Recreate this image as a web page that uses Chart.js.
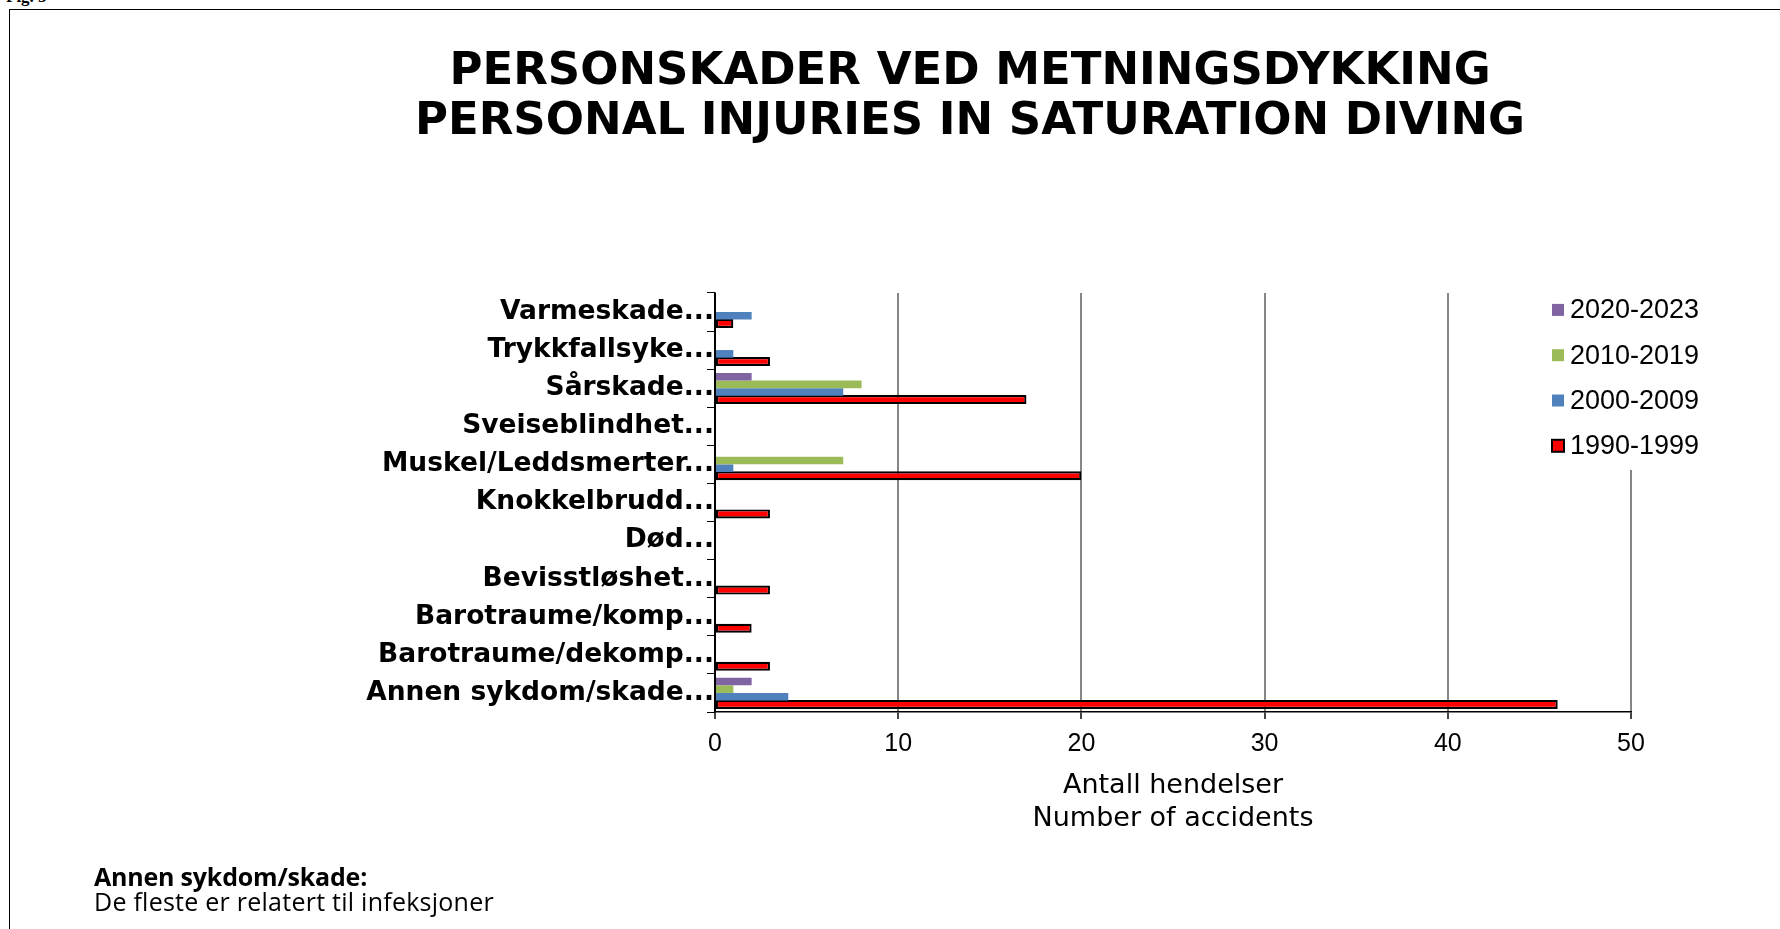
<!DOCTYPE html>
<html>
<head>
<meta charset="utf-8">
<script src="https://cdn.jsdelivr.net/npm/chart.js@4/dist/chart.umd.min.js"></script>
<style>
  html, body { margin: 0; padding: 0; background: #fff; }
  body { width: 1780px; height: 929px; position: relative; overflow: hidden; }
  #fig { position: absolute; left: 6px; top: -13px; font: bold 17px "Liberation Serif", serif; color: #000; }
  #frame { position: absolute; left: 9px; top: 9px; width: 1800px; height: 960px; border: 1.5px solid #000; }
  #wrap { position: absolute; left: 160px; top: 0; width: 1620px; height: 929px; }
  #note { position: absolute; left: 94px; top: 864px; font: 25px "Open Sans", sans-serif; line-height: 25px; color: #000; }
  #note b { font-weight: bold; letter-spacing: -0.2px; }
  #note span { letter-spacing: 0.25px; }
</style>
</head>
<body>
<div id="fig">Fig. 5</div>
<div id="frame"></div>
<div id="wrap"><canvas id="chart" width="1620" height="929"></canvas></div>
<div id="note"><b>Annen sykdom/skade:</b><br><span>De fleste er relatert til infeksjoner</span></div>
<script>
// kategorier (ovenfra og ned)
const categories = [
    'Varmeskade...', 'Trykkfallsyke...', 'Sårskade...', 'Sveiseblindhet...',
    'Muskel/Leddsmerter...', 'Knokkelbrudd...', 'Død...', 'Bevisstløshet...',
    'Barotraume/komp...', 'Barotraume/dekomp...', 'Annen sykdom/skade...'
];

// antall hendelser per periode
const v2020 = [0, 0, 2, 0, 0, 0, 0, 0, 0, 0, 2];
const v2010 = [0, 0, 8, 0, 7, 0, 0, 0, 0, 0, 1];
const v2000 = [2, 1, 7, 0, 1, 0, 0, 0, 0, 0, 4];
const v1990 = [1, 3, 17, 0, 20, 3, 0, 3, 2, 3, 46];

const xTicks = [0, 10, 20, 30, 40, 50];

// legende tegnet oppå plottet med hvit bakgrunn
const boxLegend = {
    id: 'boxLegend',
    afterDraw(chart) {
        const { ctx, chartArea } = chart;
        const right = chartArea.right;
        const top = chartArea.top;
        ctx.save();
        ctx.fillStyle = '#fff';
        ctx.fillRect(right - 88, top, 200, 177);
        ctx.font = '27px "Liberation Sans", Arial, sans-serif';
        ctx.textBaseline = 'middle';
        chart.data.datasets.forEach((ds, i) => {
            const y = top + 17 + i * 45.3;
            ctx.fillStyle = ds.backgroundColor;
            ctx.fillRect(right - 79, y - 6, 12, 12);
            if (ds.borderWidth) {
                ctx.strokeStyle = '#000';
                ctx.lineWidth = 2;
                ctx.strokeRect(right - 79, y - 6, 12, 12);
            }
            ctx.fillStyle = '#000';
            ctx.fillText(ds.label, right - 61, y + 1);
        });
        ctx.restore();
    }
};

new Chart(document.getElementById('chart'), {
    type: 'bar',
    data: {
        labels: categories,
        datasets: [
            { label: '2020-2023', data: v2020, backgroundColor: '#8064A2' },
            { label: '2010-2019', data: v2010, backgroundColor: '#9BBB59' },
            { label: '2000-2009', data: v2000, backgroundColor: '#4F81BD' },
            {
                label: '1990-1999', data: v1990, backgroundColor: '#FF0000',
                borderColor: '#000', borderWidth: 2.2, borderSkipped: false, barPercentage: 1.18
            }
        ]
    },
    options: {
        indexAxis: 'y',
        responsive: false,
        animation: false,
        categoryPercentage: 0.8,
        barPercentage: 1.0,
        layout: { padding: { left: 149, right: 149, top: 0, bottom: 0 } },
        plugins: {
            legend: { display: false },
            tooltip: { enabled: false },
            title: {
                display: true,
                text: ['PERSONSKADER VED METNINGSDYKKING', 'PERSONAL INJURIES IN SATURATION DIVING'],
                color: '#000',
                font: { family: '"DejaVu Sans", Verdana, sans-serif', size: 45, weight: 'bold', lineHeight: 1.11 },
                padding: { top: 47, bottom: 146 }
            }
        },
        scales: {
            x: {
                min: 0,
                max: 50,
                afterBuildTicks: (scale) => { scale.ticks = xTicks.map(v => ({ value: v })); },
                afterFit: (scale) => { scale.height = 217; },
                grid: {
                    color: (c) => (c.tick && c.tick.value === 0 ? '#000' : '#868686'),
                    lineWidth: 2,
                    tickColor: '#444',
                    tickLength: 7
                },
                border: { color: '#000', width: 1.5 },
                ticks: {
                    color: '#000',
                    padding: 10,
                    font: { family: '"Liberation Sans", Arial, sans-serif', size: 25 }
                },
                title: {
                    display: true,
                    text: ['Antall hendelser', 'Number of accidents'],
                    color: '#000',
                    font: { family: '"DejaVu Sans", Verdana, sans-serif', size: 27, lineHeight: 1.22 },
                    padding: { top: 0, bottom: 94 }
                }
            },
            y: {
                afterFit: (scale) => { scale.width = 406; },
                grid: {
                    drawOnChartArea: false,
                    offset: true,
                    color: '#000',
                    tickLength: 8
                },
                border: { color: '#000', width: 1.5 },
                ticks: {
                    color: '#000',
                    padding: -7,
                    font: { family: '"DejaVu Sans", Verdana, sans-serif', size: 26.5, weight: 'bold' }
                }
            }
        }
    },
    plugins: [boxLegend]
});
</script>
</body>
</html>
